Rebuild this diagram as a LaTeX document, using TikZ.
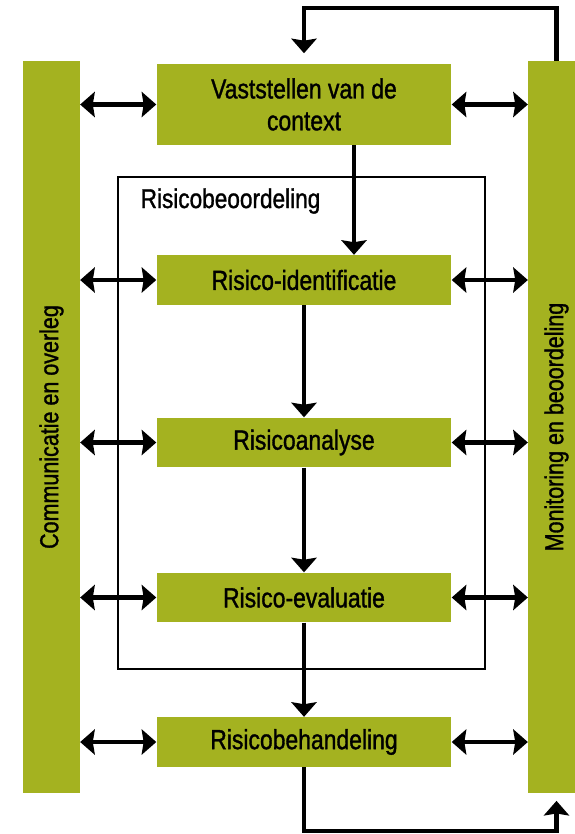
\documentclass[tikz,border=0pt]{standalone}
\usepackage{fontspec}
\setmainfont{Liberation Sans}[FakeStretch=0.83,FakeBold=1.2]
\usetikzlibrary{arrows.meta}
\definecolor{olive}{RGB}{164,178,32}
\tikzset{
  stap/.style={fill=olive,minimum width=222pt,minimum height=37.5pt,inner sep=0pt,
    align=center,font=\fontsize{20.8}{24}\selectfont},
  balk/.style={fill=olive,minimum width=42.75pt,minimum height=550.5pt,inner sep=0pt},
  balktekst/.style={rotate=90,font=\fontsize{19.5}{24}\selectfont},
  pijl/.style={line width=3.1pt,-{Stealth[length=11pt,width=19pt,inset=1.5pt]}},
  dubbel/.style={line width=3.1pt,{Stealth[length=11pt,width=19pt,inset=1.5pt]}-{Stealth[length=11pt,width=19pt,inset=1.5pt]}}
}
\begin{document}
\begin{tikzpicture}
    \def\x{0.026458}
    \def\y{-0.026458}
    \useasboundingbox (0,0) rectangle (574*\x, 834*\y);
    \draw[line width=0.8pt] (118*\x, 177*\y) rectangle (485*\x, 669*\y);
    \node [anchor=west,font=\fontsize{20.5}{24}\selectfont] (beoord) at (136*\x, 201*\y) {Risicobeoordeling};
    \node [balk] (comm) at (51.5*\x, 427*\y) {};
    \node [balk] (mon) at (556.5*\x, 427*\y) {};
    \node [balktekst] at (comm) {Communicatie en overleg};
    \node [balktekst] at (mon) {Monitoring en beoordeling};
    \node [stap,minimum height=60.75pt] (ctx) at (304*\x, 104.5*\y) {Vaststellen van de\\context};
    \node [stap] (ident) at (304*\x, 280*\y) {Risico-identificatie};
    \node [stap] (anal) at (304*\x, 442.5*\y) {Risicoanalyse};
    \node [stap] (eval) at (304*\x, 597.5*\y) {Risico-evaluatie};
    \node [stap] (behand) at (304*\x, 742*\y) {Risicobehandeling};
    \coordinate (drop) at (354*\x, 0);
    \coordinate (boven) at (556.5*\x, 8*\y);
    \coordinate (onder) at (304*\x, 831*\y);
    \path (ctx.south -| drop) edge [pijl] (ident.north -| drop);
    \path (ident) edge [pijl] (anal);
    \path (anal) edge [pijl] (eval);
    \path (eval) edge [pijl] (behand);
    \foreach \s in {ctx,ident,anal,eval,behand} {
      \path (comm.east |- \s) edge [dubbel] (\s.west);
      \path (\s.east) edge [dubbel] (mon.west |- \s);
    }
    \draw [pijl,shorten >=8pt] (mon.north) -- (boven) -| (ctx.north);
    \draw [pijl,shorten >=6pt] (behand.south) -- (onder) -| (mon.south);
\end{tikzpicture}
\end{document}
